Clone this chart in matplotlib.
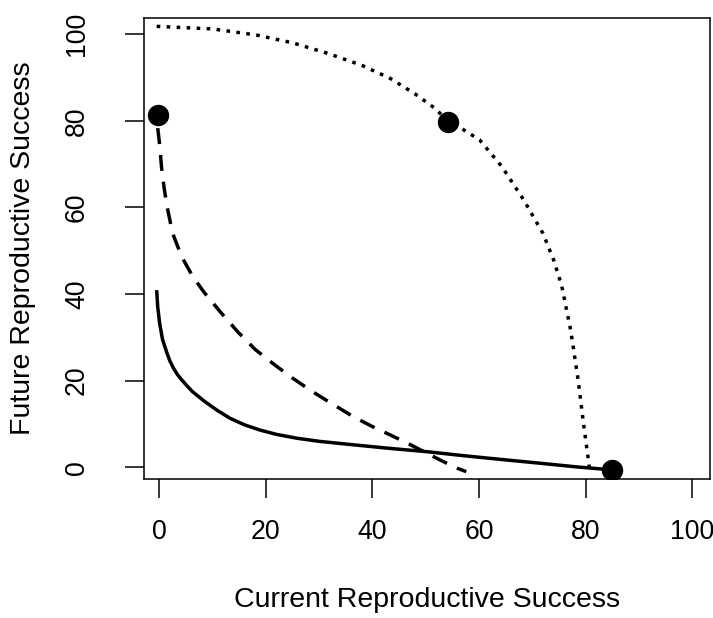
import matplotlib
matplotlib.use("Agg")
import matplotlib.pyplot as plt

plt.rcParams['font.family'] = ['Liberation Sans', 'DejaVu Sans']
plt.rcParams['lines.scale_dashes'] = False

# dotted curve (upper frontier)
dot_x = [-0.5, 10, 18.2, 25, 31.5, 38, 43.3, 48, 51.7, 54.1, 57, 60.1, 64.3, 68.4, 72, 74, 75.5, 77.2, 78.6, 79.6, 80.7, 81.0]
dot_y = [101.8, 101.2, 99.8, 98.0, 95.6, 92.8, 89.8, 86.2, 82.9, 80.0, 78.0, 75.6, 69.4, 61.7, 54.0, 47.9, 42.0, 31.7, 20.2, 10.2, 0.1, -1.2]

# dashed curve
dash_x = [-0.3, 0.1, 0.4, 0.9, 1.45, 2.5, 4.2, 6.3, 8.4, 11.5, 14.7, 18, 21.7, 25, 28.7, 32.5, 36.4, 40, 43.3, 47, 50.3, 53, 55.9, 57.6]
dash_y = [78.3, 74.0, 69.4, 64.5, 60.2, 54.0, 48.6, 44.0, 40.4, 35.8, 31.3, 27.2, 23.6, 20.6, 17.5, 14.6, 11.7, 9.4, 7.5, 5.3, 3.2, 1.5, -0.2, -1.0]

# solid curve
sol_x = [-0.5, -0.3, 0.05, 0.6, 1.45, 2.0, 2.7, 3.4, 4.2, 5.2, 6.2, 7.3, 8.4, 10.8, 13.3, 16, 18.9, 22, 25.9, 30, 36.4, 43, 50.3, 57, 64.3, 71, 78.3, 85]
sol_y = [40.9, 37.0, 33.3, 29.5, 26.3, 24.5, 22.8, 21.4, 20.2, 18.8, 17.5, 16.4, 15.3, 13.2, 11.3, 9.8, 8.6, 7.6, 6.7, 6.0, 5.2, 4.4, 3.6, 2.7, 1.8, 1.0, 0.1, -0.6]

# highlighted points
pt_x = [-0.2, 54.1, 84.9]
pt_y = [81.4, 79.8, -0.6]

fig = plt.figure(figsize=(7.13, 6.18), dpi=100)
ax = fig.add_axes([0.2015, 0.2244, 0.7939, 0.747])

lw = 2.5
ax.plot(dot_x, dot_y, color='black', lw=lw, linestyle=(0, (2.6, 4.6)), dash_capstyle='butt')
ax.plot(dash_x, dash_y, color='black', lw=lw, linestyle=(0, (11.5, 7.9)), dash_capstyle='butt')
ax.plot(sol_x, sol_y, color='black', lw=lw, solid_capstyle='butt')
ax.plot(pt_x, pt_y, 'o', color='black', markersize=14.4, linestyle='none')

ax.set_xlim(-2.94, 103.3)
ax.set_ylim(-2.77, 103.8)
ax.set_xticks([0, 20, 40, 60, 80, 100])
ax.set_yticks([0, 20, 40, 60, 80, 100])
ax.set_yticklabels(['0', '20', '40', '60', '80', '100'], rotation=90, va='center')
ax.tick_params(direction='out', length=13.7, width=1.1, labelsize=19.2)
ax.tick_params(axis='x', pad=15)
ax.tick_params(axis='y', pad=25)
for s in ax.spines.values():
    s.set_linewidth(1.1)

ax.set_xlabel('Current Reproductive Success', fontsize=20.5, labelpad=30)
ax.set_ylabel('Future Reproductive Success', fontsize=20.5, labelpad=20)

fig.savefig('out.png', dpi=100)
